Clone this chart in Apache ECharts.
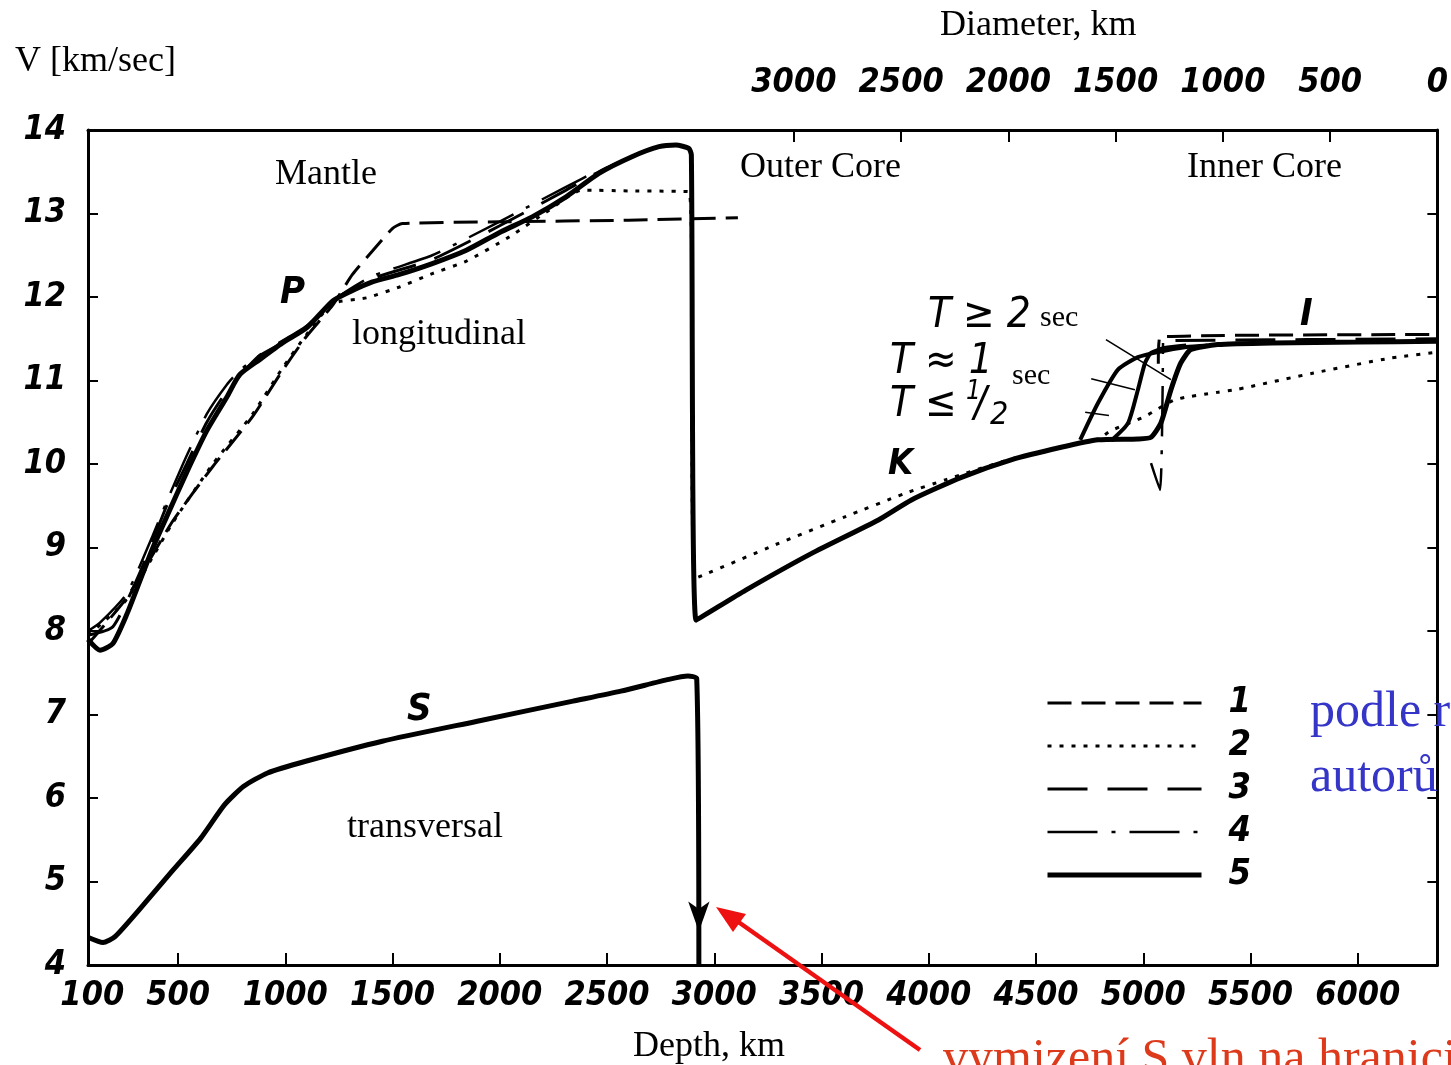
<!DOCTYPE html>
<html>
<head>
<meta charset="utf-8">
<script src="https://cdn.jsdelivr.net/npm/echarts@6/dist/echarts.min.js"></script>
<style>html,body{margin:0;padding:0;background:#fff;}#c{width:1451px;height:1065px;}</style>
</head>
<body>
<div id="c"></div>
<script>
// ---------- data ----------
const depthTicks = [500,1000,1500,2000,2500,3000,3500,4000,4500,5000,5500,6000];
const depthLabels = [100,500,1000,1500,2000,2500,3000,3500,4000,4500,5000,5500,6000];
const radiusTicks = [500,1000,1500,2000,2500,3000];
const radiusLabels = [0,500,1000,1500,2000,2500,3000];
const legendNames = ['1','2','3','4','5'];

// curve 5 (thick solid): P in mantle, outer core K, transition, inner core
const curve5P = [[80,7.9],[136,7.77],[196,7.85],[261,8.2],[322,8.6],[383,9.0],[447,9.37],[540,9.9],[634,10.4],[727,10.8],[787,11.07],[880,11.25],[987,11.45],[1099,11.63],[1220,11.95],[1299,12.06],[1406,12.18],[1532,12.27],[1685,12.4],[1844,12.56],[1997,12.77],[2151,12.96],[2309,13.2],[2462,13.48],[2616,13.68],[2742,13.8],[2821,13.82],[2881,13.78],[2893,13.7],[2915,8.13],[3147,8.49],[3454,8.93],[3765,9.33],[3919,9.57],[4152,9.84],[4384,10.05],[4617,10.2],[4789,10.29],[4975,10.3],[5036,10.32],[5082,10.49],[5129,10.89],[5175,11.21],[5222,11.37],[5347,11.43],[5600,11.45],[6000,11.46],[6371,11.47]];
// curve 5: S waves
const curve5S = [[82,4.33],[150,4.27],[206,4.34],[338,4.72],[471,5.12],[606,5.52],[717,5.92],[806,6.14],[917,6.3],[1095,6.44],[1452,6.68],[1895,6.92],[2341,7.16],[2564,7.28],[2788,7.42],[2877,7.46],[2918,7.43],[2928,4.0]];
// transition curves, T >= 2 sec and T ~ 1 sec
const curveT2 = [[4706,10.29],[4789,10.73],[4882,11.13],[4975,11.28],[5068,11.34],[5200,11.4],[5300,11.42]];
const curveT1 = [[4850,10.28],[4929,10.49],[4975,10.89],[5008,11.21],[5036,11.33],[5100,11.39],[5200,11.42]];
// curve 1 (dashed)
const curve1Mantle = [[82,7.85],[261,8.4],[476,9.32],[662,9.97],[848,10.57],[987,11.12],[1099,11.53],[1220,11.9],[1313,12.27],[1406,12.55],[1499,12.82],[1546,12.88],[2000,12.9],[2600,12.92],[3110,12.95]];
const curve1Core = [[5070,11.2],[5078,11.52],[6371,11.55]];
// curve 2 (dotted)
const curve2 = [[82,7.95],[261,8.38],[476,9.3],[662,10.0],[848,10.6],[987,11.15],[1099,11.55],[1220,11.92],[1378,11.99],[1532,12.12],[1685,12.28],[1844,12.43],[2044,12.72],[2230,13.04],[2383,13.28],[2600,13.27],[2882,13.26],[2910,8.63],[3300,9.05],[3612,9.37],[3891,9.65],[4077,9.81],[4384,10.06],[4617,10.2],[4789,10.3],[4850,10.4],[5008,10.57],[5148,10.77],[5347,10.86],[5431,10.89],[5794,11.09],[6157,11.27],[6371,11.34]];
// curve 3 (long dash)
const curve3Mantle = [[80,7.95],[196,8.05],[322,8.7],[447,9.5],[540,10.0],[634,10.5],[727,10.87],[880,11.3],[1099,11.65],[1220,11.95],[1406,12.22],[1685,12.45],[1997,12.85],[2309,13.28],[2462,13.5],[2616,13.68]];
const curve3Core = [[5150,11.48],[6371,11.5]];
// curve 4 (dash-dot)
const curve4Mantle = [[80,8.0],[136,8.1],[261,8.45],[383,9.15],[447,9.55],[540,10.1],[634,10.6],[727,10.95],[787,11.12],[880,11.3],[1099,11.62],[1220,11.95],[1406,12.25],[1685,12.5],[1997,12.9],[2309,13.32],[2462,13.52]];
const curve4Core = [[5036,10.01],[5078,9.69],[5092,11.45]];
// pointer lines for the T labels
const pointer1 = [[4826,11.49],[5129,11.01]];
const pointer2 = [[4757,11.02],[4961,10.89]];
const pointer3 = [[4729,10.62],[4840,10.58]];

// ---------- styles ----------
const numFont = '"DejaVu Sans Condensed","Liberation Sans Narrow","DejaVu Sans",sans-serif';
const serif = '"Liberation Serif","DejaVu Serif",serif';
const numText = {fontStyle:'italic', fontWeight:'bold', fontSize:34, fontFamily:numFont, color:'#000',
  formatter: v => String(v)};

const dash1 = [24,10], dot2 = [4,8], dash3 = [40,20], dashdot4 = [50,14,4,14];
const styleOf = {'1':[dash1,3], '2':[dot2,3], '3':[dash3,3], '4':[dashdot4,2.5], '5':['solid',5]};

function line(name, data, type, width) {
  return {type:'line', name:name, data:data, symbol:'none', smooth:0.2, clip:true,
    itemStyle:{color:'rgba(0,0,0,0)', borderWidth:0},
    lineStyle:{color:'#000', width:width, type:type, cap:'butt'}, z:3, silent:true};
}

const series = [
  line('1', curve1Mantle, dash1, 3),
  line('2', curve2, dot2, 3),
  line('3', curve3Mantle, dash3, 3),
  line('4', curve4Mantle, dashdot4, 2.5),
  line('5', curve5P, 'solid', 5),
  line('1', curve1Core, dash1, 3),
  line('3', curve3Core, dash3, 3),
  line('4', curve4Core, dashdot4, 2.5),
  line('5', curveT2, 'solid', 4),
  line('5', curveT1, 'solid', 4),
  line('5', curve5S, 'solid', 5),
  line('ptr', pointer1, 'solid', 1.6),
  line('ptr', pointer2, 'solid', 1.6),
  line('ptr', pointer3, 'solid', 1.6)
];
series[10].markPoint = {symbol:'arrow', symbolSize:[16,30], symbolRotate:180, silent:true,
  itemStyle:{color:'#000'}, label:{show:false}, data:[{coord:[2928,4.4]}]};

const labels = [
  {t:'V [km/sec]', x:15, y:62, f:'36px '+serif},
  {t:'Diameter, km', x:940, y:26, f:'36px '+serif},
  {t:'Depth, km', x:633, y:1047, f:'36px '+serif},
  {t:'Mantle', x:275, y:175, f:'36px '+serif},
  {t:'Outer Core', x:740, y:168, f:'36px '+serif},
  {t:'Inner Core', x:1187, y:168, f:'36px '+serif},
  {t:'longitudinal', x:352, y:335, f:'36px '+serif},
  {t:'transversal', x:347, y:828, f:'36px '+serif},
  {t:'P', x:280, y:293, f:'italic bold 38px '+numFont},
  {t:'S', x:407, y:710, f:'italic bold 38px '+numFont},
  {t:'K', x:888, y:465, f:'italic bold 36px '+numFont},
  {t:'I', x:1300, y:315, f:'italic bold 38px '+numFont},
  {t:'T \u2265 2', x:928, y:316, f:'italic 42px '+numFont},
  {t:'sec', x:1040, y:318, f:'30px '+serif},
  {t:'T \u2248 1', x:890, y:362, f:'italic 42px '+numFont},
  {t:'sec', x:1012, y:376, f:'30px '+serif},
  {t:'T \u2264', x:890, y:405, f:'italic 42px '+numFont},
  {t:'1', x:966, y:392, f:'italic 26px '+numFont},
  {t:'/', x:974, y:405, f:'italic 42px '+numFont},
  {t:'2', x:990, y:416, f:'italic 32px '+numFont},
  {t:'podle různých', x:1310, y:713, f:'50px '+serif, c:'#3535c8'},
  {t:'autorů', x:1310, y:778, f:'50px '+serif, c:'#3535c8'},
  {t:'vymizení S vln na hranici', x:943, y:1060, f:'50px '+serif, c:'#dd3a1c'}
];

const graphic = labels.map(l => ({type:'text', x:l.x, y:l.y, z:10,
  style:{text:l.t, font:l.f, fill:l.c||'#000', align:'left', verticalAlign:'middle'}}));
graphic.push({type:'line', z:20, shape:{x1:920,y1:1050,x2:737,y2:921}, style:{stroke:'#ee1111', lineWidth:4.5}});
graphic.push({type:'polygon', z:20, shape:{points:[[716,907],[746,914],[733,932]]}, style:{fill:'#ee1111'}});

const option = {
  animation:false,
  backgroundColor:'#fff',
  grid:{left:88, right:11, top:130, bottom:100},
  legend:{show:true, orient:'vertical', left:1040, top:679,
    data:legendNames.map(n => ({name:n, lineStyle:{color:'#000', width:styleOf[n][1], type:styleOf[n][0]}})),
    itemWidth:154, itemHeight:14, itemGap:5, selectedMode:false,
    itemStyle:{opacity:0},
    textStyle:{fontStyle:'italic', fontWeight:'bold', fontSize:36, fontFamily:numFont, color:'#000',
      lineHeight:38, padding:[0,0,0,22]}},
  xAxis:[
    {type:'value', position:'bottom', min:80, max:6371,
      axisLine:{show:true, onZero:false, lineStyle:{color:'#000', width:3}},
      axisTick:{show:true, inside:true, length:12, lineStyle:{width:2, color:'#000'}, customValues:depthTicks},
      axisLabel:Object.assign({margin:14, customValues:depthLabels, hideOverlap:false}, numText),
      splitLine:{show:false}},
    {type:'value', position:'top', inverse:true, min:0, max:6291,
      axisLine:{show:true, onZero:false, lineStyle:{color:'#000', width:3}},
      axisTick:{show:true, inside:true, length:12, lineStyle:{width:2, color:'#000'}, customValues:radiusTicks},
      axisLabel:Object.assign({margin:30, customValues:radiusLabels, hideOverlap:false}, numText),
      splitLine:{show:false}}
  ],
  yAxis:[
    {type:'value', position:'left', min:4, max:14, interval:1,
      axisLine:{show:true, onZero:false, lineStyle:{color:'#000', width:3}},
      axisTick:{show:true, inside:true, length:10, lineStyle:{width:2, color:'#000'}},
      axisLabel:Object.assign({margin:22}, numText),
      splitLine:{show:false}},
    {type:'value', position:'right', min:4, max:14, interval:1,
      axisLine:{show:true, onZero:false, lineStyle:{color:'#000', width:3}},
      axisTick:{show:true, inside:true, length:10, lineStyle:{width:2, color:'#000'}},
      axisLabel:{show:false}, splitLine:{show:false}}
  ],
  series:series,
  graphic:graphic
};
const chart = echarts.init(document.getElementById('c'), null, {renderer:'canvas'});
chart.setOption(option);
</script>
</body>
</html>
